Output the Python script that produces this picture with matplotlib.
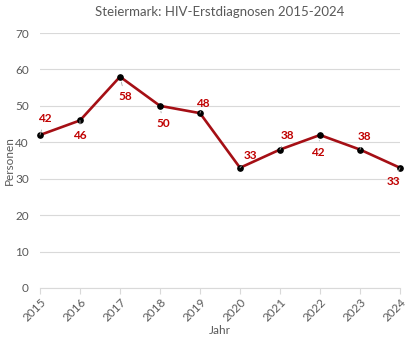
import matplotlib
matplotlib.use("Agg")
import matplotlib.pyplot as plt

years = [2015, 2016, 2017, 2018, 2019, 2020, 2021, 2022, 2023, 2024]
values = [42, 46, 58, 50, 48, 33, 38, 42, 38, 33]
label_offsets = [(5, 16), (0, -15), (5, -20), (3, -18), (3, 10),
                 (10, 12), (7, 14), (-2, -17), (4, 13), (-7, -14)]

plt.rcParams['font.family'] = ['Lato', 'DejaVu Sans']

fig = plt.figure(figsize=(4.1, 3.44), dpi=100)
ax = fig.add_axes([40/410, 1-288/344, 360/410, 255/344])

ax.plot(years, values, color='#A50F15', lw=1.9, zorder=3, clip_on=False)
ax.plot(years, values, 'o', color='black', ms=3.8, zorder=4, clip_on=False)

for x, y, (dx, dy) in zip(years, values, label_offsets):
    ax.annotate(str(y), xy=(x, y), xytext=(dx * 0.72, dy * 0.72), textcoords='offset points',
                ha='center', va='center', color='#C00000', fontsize=8.5, fontweight='bold',
                arrowprops=dict(arrowstyle='-', color='#A6A6A6', lw=0.6, shrinkA=2, shrinkB=4),
                zorder=5)

ax.set_xlim(2015, 2024)
ax.set_ylim(0, 70)
ax.set_yticks(range(0, 71, 10))
ax.set_xticks(years)
ax.set_xticklabels([str(y) for y in years], rotation=45, ha='right', rotation_mode='anchor')
ax.grid(axis='y', color='#D9D9D9', lw=0.8)
ax.set_axisbelow(True)
for s in ['top', 'right', 'left']:
    ax.spines[s].set_visible(False)
ax.spines['bottom'].set_color('#D9D9D9')
ax.tick_params(axis='y', length=0, colors='#595959', labelsize=8.5, pad=8)
ax.tick_params(axis='x', length=4, color='#D9D9D9', colors='#595959', labelsize=8.5, pad=2)

ax.set_title('Steiermark: HIV-Erstdiagnosen 2015-2024', fontsize=9.5, color='#595959', pad=12)
ax.set_xlabel('Jahr', fontsize=8.5, color='#595959', labelpad=1)
ax.set_ylabel('Personen', fontsize=8.5, color='#595959', labelpad=0)

fig.savefig('out.png', dpi=100)
